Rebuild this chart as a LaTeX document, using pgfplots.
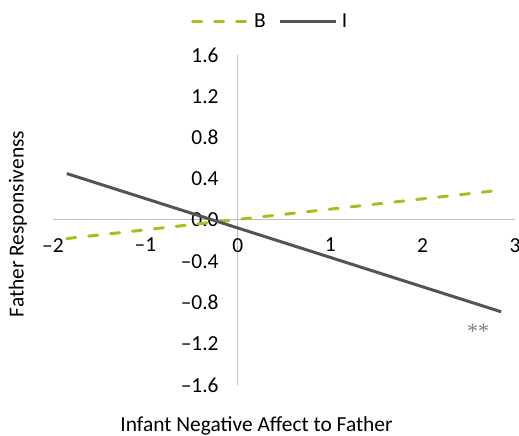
\documentclass[border=0pt]{standalone}
\usepackage{fontspec}
\setmainfont{Carlito}
\newfontfamily\serif{Liberation Serif}
\usepackage{pgfplots}
\pgfplotsset{compat=1.18}

\definecolor{bgreen}{RGB}{166,190,32}
\definecolor{idark}{RGB}{85,85,75}
\definecolor{axgray}{RGB}{191,191,191}
\definecolor{stargray}{RGB}{128,128,128}

\begin{document}
\fontsize{21.5}{25}\selectfont
\begin{tikzpicture}
\begin{axis}[
at={(0,0)}, anchor=south west,
scale only axis,
width=462bp, height=330bp,
xmin=-2, xmax=3,
ymin=-1.6, ymax=1.6,
axis x line=middle,
axis y line=middle,
axis line style={draw=axgray, line width=1bp, -},
hide obscured x ticks=false,
hide obscured y ticks=false,
major tick length=0pt,
xtick={-2,-1,0,1,2,3},
xticklabels={–2,–1,0,1,2,3},
ytick={-1.6,-1.2,-0.8,-0.4,0,0.4,0.8,1.2,1.6},
yticklabels={–1.6,–1.2,–0.8,–0.4,0.0,0.4,0.8,1.2,1.6},
xticklabel style={anchor=north, inner sep=0pt, yshift=-18bp},
yticklabel style={anchor=east, inner sep=0pt, xshift=-19bp},
clip=false,
legend columns=2,
legend style={draw=none, fill=none, inner sep=0pt,
  at={(axis description cs:0.2987,1.103)}, anchor=west,
  /tikz/every even column/.append style={column sep=13bp},
  nodes={inner sep=0pt, text depth=0pt}},
legend cell align=left,
legend image code/.code={\draw[#1] (0bp,0bp) -- (56bp,0bp);},
/tikz/every odd column/.append style={column sep=4bp},
]
\addplot [bgreen, line width=3bp, line cap=round, dash pattern=on 9bp off 13bp]
coordinates {(-1.85,-0.18) (2.85,0.29)};
\addlegendentry{B}
\addplot [idark, line width=3bp]
coordinates {(-1.85,0.45) (2.85,-0.89)};
\addlegendentry{I}
\node [text=stargray, font=\serif\fontsize{22}{24}\selectfont] at (axis cs:2.6,-1.075) {**};
\end{axis}
\node [rotate=90, anchor=center] at (-35bp,161bp) {Father Responsivenss};
\node [anchor=base] at (203.5bp,-46bp) {Infant Negative Affect to Father};
\pgfresetboundingbox
\path (-53bp,-51bp) rectangle (466bp,385bp);
\end{tikzpicture}
\end{document}
